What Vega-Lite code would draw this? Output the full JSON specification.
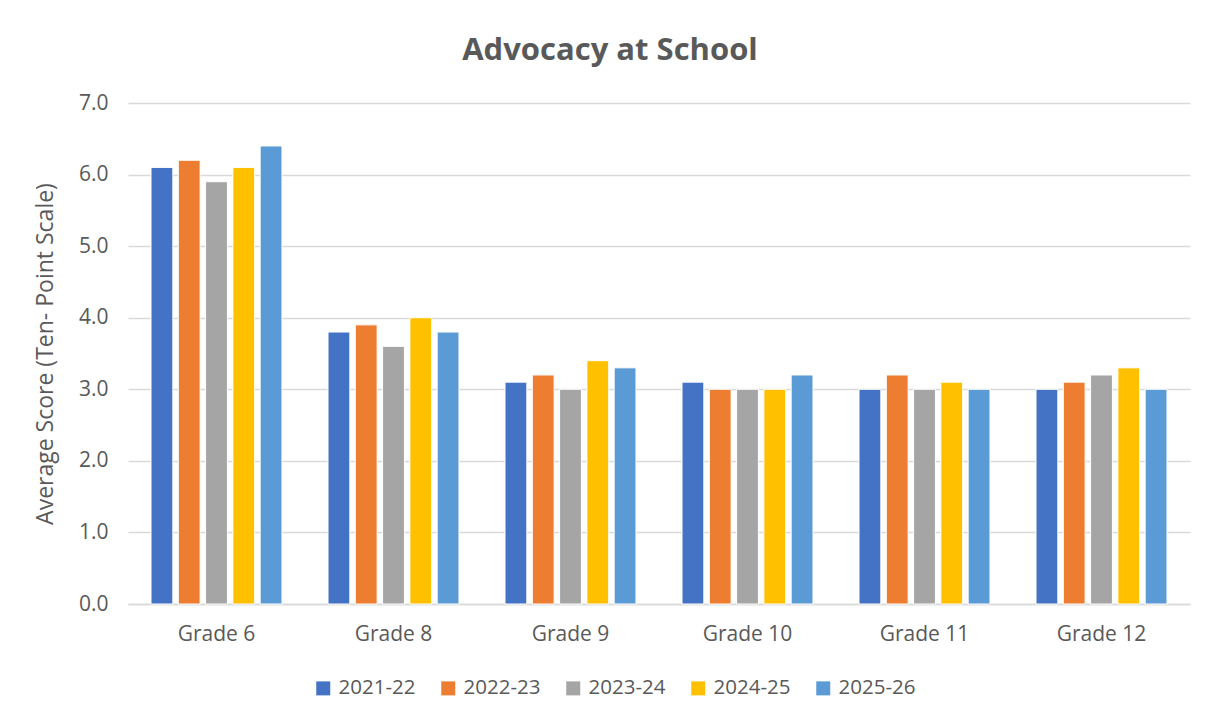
{
  "$schema": "https://vega.github.io/schema/vega-lite/v6.json",
  "width": 1062,
  "height": 501,
  "autosize": {"type": "none"},
  "padding": {"left": 128, "top": 103, "right": 27, "bottom": 123},
  "background": "white",
  "title": {"text": "Advocacy at School", "fontSize": 31, "font": "Open Sans", "fontWeight": "bold", "color": "#595959", "anchor": "middle", "offset": 25, "dx": -49},
  "data": {"values": [
    {"grade": "Grade 6", "year": "2021-22", "score": 6.1},
    {"grade": "Grade 6", "year": "2022-23", "score": 6.2},
    {"grade": "Grade 6", "year": "2023-24", "score": 5.9},
    {"grade": "Grade 6", "year": "2024-25", "score": 6.1},
    {"grade": "Grade 6", "year": "2025-26", "score": 6.4},
    {"grade": "Grade 8", "year": "2021-22", "score": 3.8},
    {"grade": "Grade 8", "year": "2022-23", "score": 3.9},
    {"grade": "Grade 8", "year": "2023-24", "score": 3.6},
    {"grade": "Grade 8", "year": "2024-25", "score": 4.0},
    {"grade": "Grade 8", "year": "2025-26", "score": 3.8},
    {"grade": "Grade 9", "year": "2021-22", "score": 3.1},
    {"grade": "Grade 9", "year": "2022-23", "score": 3.2},
    {"grade": "Grade 9", "year": "2023-24", "score": 3.0},
    {"grade": "Grade 9", "year": "2024-25", "score": 3.4},
    {"grade": "Grade 9", "year": "2025-26", "score": 3.3},
    {"grade": "Grade 10", "year": "2021-22", "score": 3.1},
    {"grade": "Grade 10", "year": "2022-23", "score": 3.0},
    {"grade": "Grade 10", "year": "2023-24", "score": 3.0},
    {"grade": "Grade 10", "year": "2024-25", "score": 3.0},
    {"grade": "Grade 10", "year": "2025-26", "score": 3.2},
    {"grade": "Grade 11", "year": "2021-22", "score": 3.0},
    {"grade": "Grade 11", "year": "2022-23", "score": 3.2},
    {"grade": "Grade 11", "year": "2023-24", "score": 3.0},
    {"grade": "Grade 11", "year": "2024-25", "score": 3.1},
    {"grade": "Grade 11", "year": "2025-26", "score": 3.0},
    {"grade": "Grade 12", "year": "2021-22", "score": 3.0},
    {"grade": "Grade 12", "year": "2022-23", "score": 3.1},
    {"grade": "Grade 12", "year": "2023-24", "score": 3.2},
    {"grade": "Grade 12", "year": "2024-25", "score": 3.3},
    {"grade": "Grade 12", "year": "2025-26", "score": 3.0}
  ]},
  "mark": {"type": "bar", "stroke": "white", "strokeWidth": 1},
  "encoding": {
    "x": {
      "field": "grade", "type": "nominal", "sort": null,
      "scale": {"paddingInner": 0.26, "paddingOuter": 0.13},
      "axis": {"title": null, "labelAngle": 0, "labelFontSize": 21, "labelFont": "Open Sans", "labelColor": "#595959", "labelPadding": 19, "ticks": false, "domainColor": "#D9D9D9", "domainWidth": 1.5}
    },
    "xOffset": {"field": "year", "type": "nominal", "scale": {"paddingInner": 0.2, "paddingOuter": 0}},
    "y": {
      "field": "score", "type": "quantitative",
      "scale": {"domain": [0, 7], "nice": false},
      "axis": {"title": "Average Score (Ten- Point Scale)", "titleFontSize": 23, "titleFont": "Open Sans", "titleFontWeight": "normal", "titleColor": "#595959", "titlePadding": 21,
        "values": [0, 1, 2, 3, 4, 5, 6, 7], "format": ".1f", "labelFontSize": 21, "labelFont": "Open Sans", "labelColor": "#595959", "labelPadding": 20,
        "ticks": false, "domain": false, "gridColor": "#D9D9D9", "gridWidth": 1.5}
    },
    "color": {
      "field": "year", "type": "nominal",
      "scale": {"domain": ["2021-22", "2022-23", "2023-24", "2024-25", "2025-26"], "range": ["#4472C4", "#ED7D31", "#A5A5A5", "#FFC000", "#5B9BD5"]},
      "legend": {"title": null, "orient": "none", "legendX": 185, "legendY": 575, "direction": "horizontal", "symbolType": "square", "symbolSize": 196, "symbolStrokeWidth": 0, "labelFontSize": 20.5, "labelFont": "Open Sans", "labelColor": "#595959", "columnPadding": 22, "labelOffset": 5}
    }
  },
  "config": {"view": {"stroke": null}}
}
